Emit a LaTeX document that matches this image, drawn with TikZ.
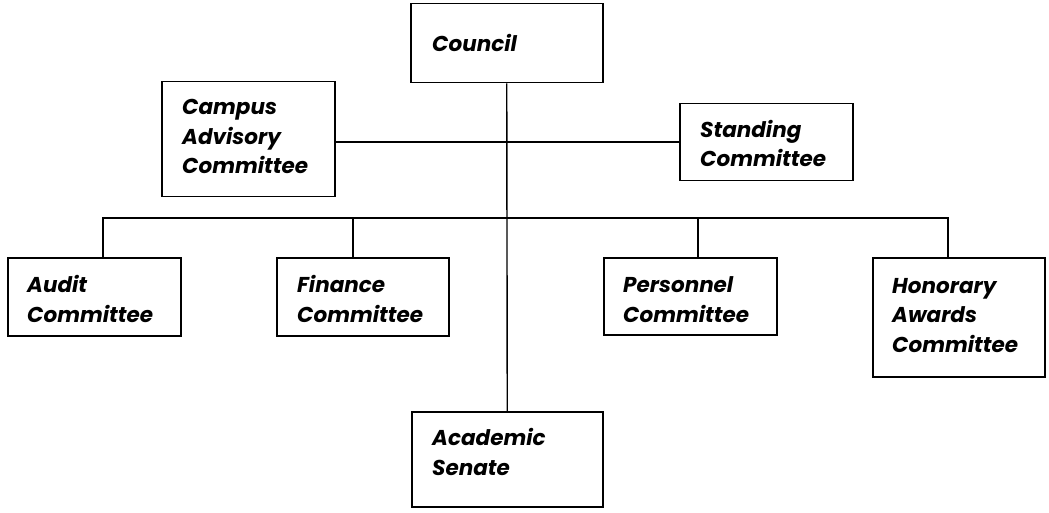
\documentclass[tikz,border=0pt]{standalone}
\usepackage{fontspec}
\setmainfont{Poppins}
\begin{document}
\begin{tikzpicture}[x=1pt,y=-1pt,
  box/.style={draw=black, line width=1.5pt, rectangle, inner sep=0pt, anchor=north west},
  lbl/.style={anchor=base west, inner sep=0pt, align=left, font=\fontsize{21.5}{29.5}\selectfont\bfseries\itshape},
  conn/.style={draw=black, line width=1.4pt}]
\useasboundingbox (0,0) rectangle (1049,513);
% boxes
\node[box, minimum width=192pt, minimum height=79pt] (council) at (410,3) {};
\node[box, minimum width=173pt, minimum height=115pt] (campus) at (161,81) {};
\node[box, minimum width=173pt, minimum height=77pt] (standing) at (679,103) {};
\node[box, minimum width=173pt, minimum height=78pt] (audit) at (7,257) {};
\node[box, minimum width=172pt, minimum height=78pt] (finance) at (276,257) {};
\node[box, minimum width=173pt, minimum height=77pt] (personnel) at (603,257) {};
\node[box, minimum width=172pt, minimum height=119pt] (honorary) at (872,257) {};
\node[box, minimum width=191pt, minimum height=95pt] (academic) at (411,411) {};
% labels (anchored at the baseline of the last line)
\node[lbl] (tcouncil) at (432,52) {Council};
\node[lbl] (tcampus) at (182,174) {Campus\\Advisory\\Committee};
\node[lbl] (tstanding) at (700,167) {Standing\\Committee};
\node[lbl] (taudit) at (27,322) {Audit\\Committee};
\node[lbl] (tfinance) at (297,322) {Finance\\Committee};
\node[lbl] (tpersonnel) at (623,322) {Personnel\\Committee};
\node[lbl] (thonorary) at (892,352) {Honorary\\Awards\\Committee};
\node[lbl] (tacademic) at (432,475) {Academic\\Senate};
% junctions
\coordinate (j1) at (507,142);
\coordinate (da) at (103,218);
\coordinate (df) at (353,218);
\coordinate (dp) at (698,218);
\coordinate (dh) at (948,218);
% connectors
\draw[conn] (council.south) -- (academic.north);
\draw[conn] (campus.east |- j1) -- (standing.west |- j1);
\draw[conn] (da |- audit.north) -- (da) -- (dh) -- (dh |- honorary.north);
\draw[conn] (df) -- (df |- finance.north);
\draw[conn] (dp) -- (dp |- personnel.north);
\end{tikzpicture}
\end{document}
